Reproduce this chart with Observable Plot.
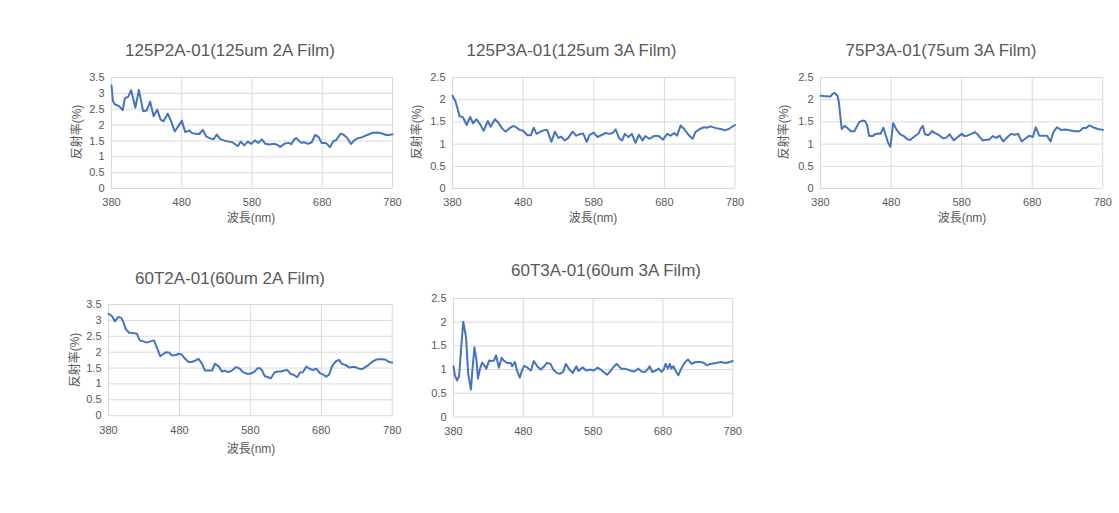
<!DOCTYPE html>
<html>
<head>
<meta charset="utf-8">
<script src="https://cdn.jsdelivr.net/npm/d3@7"></script>
<script src="https://cdn.jsdelivr.net/npm/@observablehq/plot@0.6"></script>
<style>
  html, body { margin: 0; padding: 0; background: #ffffff; }
  #root { position: relative; width: 1119px; height: 513px; overflow: hidden; background: #fff;
          font-family: "Liberation Sans", Arial, "Noto Sans CJK JP", sans-serif; color: #595959; }
  .lbl { position: absolute; white-space: nowrap; line-height: 1; transform: translate(-50%, -50%); }
  .title { font-size: 17px; }
  .axt { font-size: 12px; }
  .rot { transform: translate(-50%, -50%) rotate(-90deg); }
</style>
</head>
<body>
<div id="root"></div>
<script>
// ---- Data (wavelength nm / reflectance %) ----
const xTicks = [380, 480, 580, 680, 780];
const yTicks35 = [0, 0.5, 1, 1.5, 2, 2.5, 3, 3.5];
const yTicks25 = [0, 0.5, 1, 1.5, 2, 2.5];

const titles = [
  "125P2A-01(125um 2A Film)",
  "125P3A-01(125um 3A Film)",
  "75P3A-01(75um 3A Film)",
  "60T2A-01(60um 2A Film)",
  "60T3A-01(60um 3A Film)"
];
const xAxisTitle = "波長(nm)";
const yAxisTitle = "反射率(%)";

const wl125P2A = [380,382,385,389,392,396,399,404,408,414,419,425,430,435,440,445,450,454,460,465,470,475,480,485,491,495,500,505,510,515,520,525,530,535,540,547,552,557,560,564,569,574,579,584,589,594,599,604,612,616,620,626,632,636,640,643,650,654,660,665,670,675,679,685,691,696,700,706,710,715,721,726,731,737,744,752,758,763,771,775,780];
const r125P2A  = [3.25,2.76,2.65,2.62,2.57,2.47,2.84,2.9,3.1,2.55,3.11,2.44,2.46,2.74,2.28,2.49,2.17,2.12,2.36,2.12,1.8,1.96,2.14,1.78,1.83,1.74,1.73,1.72,1.85,1.64,1.59,1.55,1.7,1.56,1.52,1.48,1.46,1.38,1.34,1.48,1.36,1.48,1.41,1.52,1.44,1.55,1.41,1.39,1.41,1.38,1.31,1.41,1.44,1.4,1.55,1.59,1.44,1.46,1.41,1.46,1.69,1.62,1.44,1.44,1.31,1.5,1.53,1.73,1.7,1.61,1.41,1.53,1.59,1.62,1.69,1.76,1.77,1.75,1.69,1.69,1.71];

const wl125P3A = [380,384,387,390,395,400,405,409,414,419,424,430,434,440,445,450,455,461,466,471,475,480,486,491,495,499,505,511,514,520,525,530,534,539,544,550,555,560,565,570,574,580,585,592,597,602,607,611,616,620,624,629,634,639,644,649,653,659,665,672,678,684,689,694,698,703,708,714,720,724,730,736,741,745,753,760,766,771,780];
const r125P3A  = [2.09,1.97,1.81,1.63,1.6,1.43,1.61,1.47,1.56,1.45,1.3,1.52,1.39,1.56,1.48,1.36,1.28,1.36,1.41,1.37,1.32,1.3,1.2,1.2,1.37,1.23,1.28,1.32,1.32,1.05,1.28,1.14,1.17,1.08,1.14,1.28,1.19,1.22,1.24,1.05,1.2,1.26,1.16,1.21,1.25,1.23,1.25,1.33,1.13,1.08,1.23,1.16,1.23,1.03,1.21,1.08,1.18,1.12,1.18,1.18,1.1,1.23,1.19,1.25,1.19,1.42,1.34,1.21,1.12,1.27,1.34,1.38,1.37,1.4,1.36,1.34,1.31,1.34,1.43];

const wl75P3A = [380,387,394,397,400,404,406,410,414,419,423,428,432,435,440,443,446,449,454,458,462,465,469,473,476,479,483,488,493,498,503,507,513,519,522,525,528,533,538,543,548,554,558,563,569,573,580,584,588,594,599,603,610,614,619,624,629,634,639,645,650,655,660,665,670,676,681,685,690,695,701,706,710,715,721,727,733,740,747,752,756,761,766,773,780];
const r75P3A  = [2.09,2.08,2.07,2.13,2.15,2.09,1.95,1.34,1.41,1.35,1.29,1.29,1.41,1.5,1.53,1.52,1.43,1.18,1.18,1.23,1.24,1.23,1.37,1.17,1.02,0.94,1.47,1.32,1.22,1.18,1.11,1.09,1.17,1.24,1.35,1.41,1.22,1.2,1.29,1.24,1.2,1.13,1.14,1.22,1.08,1.14,1.23,1.18,1.19,1.23,1.27,1.21,1.08,1.1,1.1,1.18,1.14,1.19,1.06,1.16,1.23,1.21,1.23,1.06,1.12,1.19,1.16,1.38,1.19,1.19,1.19,1.06,1.27,1.38,1.32,1.33,1.31,1.29,1.29,1.36,1.36,1.42,1.38,1.34,1.32];

const wl60T2A = [380,385,389,394,398,401,404,409,414,420,424,429,434,439,444,448,453,458,461,466,469,474,479,483,488,493,497,502,507,512,516,521,526,530,535,540,544,549,554,560,565,570,575,580,586,590,594,597,600,605,609,614,619,623,628,632,637,641,646,650,654,659,664,669,673,678,683,687,691,695,700,705,709,714,719,724,728,733,738,742,747,752,757,761,766,771,775,780];
const r60T2A  = [3.21,3.13,2.97,3.11,3.08,2.95,2.74,2.61,2.6,2.58,2.37,2.34,2.3,2.34,2.37,2.16,1.87,1.95,2.0,1.98,1.9,1.9,1.95,1.93,1.79,1.69,1.69,1.73,1.79,1.63,1.42,1.42,1.42,1.63,1.56,1.39,1.42,1.37,1.42,1.53,1.48,1.37,1.32,1.32,1.39,1.49,1.49,1.41,1.25,1.21,1.18,1.36,1.39,1.39,1.42,1.44,1.31,1.29,1.21,1.36,1.37,1.55,1.47,1.44,1.48,1.34,1.29,1.23,1.29,1.55,1.7,1.76,1.63,1.6,1.52,1.53,1.53,1.48,1.47,1.53,1.6,1.7,1.76,1.78,1.78,1.76,1.7,1.67];

const wl60T3A = [380,382,385,388,391,394,398,401,405,407,410,413,415,418,421,424,427,431,434,438,441,445,449,452,457,462,464,468,471,475,478,481,486,491,495,500,505,510,514,519,523,528,532,537,541,546,551,556,559,565,570,576,581,586,591,595,600,605,610,614,620,625,630,635,639,645,649,654,658,661,665,670,674,678,681,684,687,690,692,695,698,702,705,710,714,716,721,727,734,739,743,748,756,763,770,776,780];
const r60T3A  = [1.07,0.88,0.77,0.86,1.47,2.01,1.68,0.91,0.58,0.98,1.47,1.19,0.81,1.02,1.15,1.09,1.02,1.19,1.18,1.19,1.3,1.04,1.25,1.19,1.14,1.14,1.07,1.16,0.98,0.83,0.98,1.08,1.04,0.98,1.18,1.07,1.0,1.07,1.14,1.12,1.0,0.93,0.91,0.95,1.12,1.0,0.93,1.07,0.97,1.05,0.98,1.0,0.98,1.04,1.0,0.95,0.89,0.97,1.07,1.12,1.02,1.02,1.0,0.97,0.96,1.02,0.96,0.95,1.0,1.07,0.95,0.98,1.02,0.95,1.0,1.12,1.02,1.12,1.02,1.07,0.98,0.88,0.98,1.12,1.19,1.21,1.12,1.16,1.16,1.14,1.09,1.12,1.14,1.16,1.14,1.16,1.18];

// ---- Layout (page coordinates of each plot frame, titles and axis titles) ----
const charts = [
  { wl: wl125P2A, r: r125P2A, yt: yTicks35, L: 110.7, R: 391.7, T: 76.7, B: 187.8, title: titles[0], tx: 230, ty: 50, ylab: [77, 132], xlab: [251, 218] },
  { wl: wl125P3A, r: r125P3A, yt: yTicks25, L: 451.7, R: 734.2, T: 76.5, B: 187.5, title: titles[1], tx: 571.5, ty: 50, ylab: [417, 132], xlab: [593, 218] },
  { wl: wl75P3A,  r: r75P3A,  yt: yTicks25, L: 820,   R: 1102.3, T: 76.5, B: 187.5, title: titles[2], tx: 941, ty: 50, ylab: [784, 132], xlab: [962, 218] },
  { wl: wl60T2A,  r: r60T2A,  yt: yTicks35, L: 108.3, R: 392, T: 304.3, B: 415.5, title: titles[3], tx: 230, ty: 278, ylab: [74.5, 360], xlab: [251, 449] },
  { wl: wl60T3A,  r: r60T3A,  yt: yTicks25, L: 453.3, R: 732.5, T: 298.3, B: 416.8, title: titles[4], tx: 606, ty: 270, ylab: null, xlab: null }
];

const root = document.getElementById("root");
const FONT = '"Liberation Sans", Arial, "Noto Sans CJK JP", sans-serif';

function addLabel(text, x, y, cls) {
  const d = document.createElement("div");
  d.className = "lbl " + cls;
  d.textContent = text;
  d.style.left = x + "px";
  d.style.top = y + "px";
  root.appendChild(d);
}

for (const c of charts) {
  const data = c.wl.map((w, i) => ({ w, r: c.r[i] }));
  const ml = 50, mr = 15, mt = 10, mb = 30;
  const width = (c.R - c.L) + ml + mr;
  const height = (c.B - c.T) + mt + mb;
  const svg = Plot.plot({
    width, height,
    marginLeft: ml, marginRight: mr, marginTop: mt, marginBottom: mb,
    style: { fontSize: "11px", fontFamily: FONT, color: "#595959", background: "transparent", overflow: "visible" },
    x: { domain: [380, 780], label: null },
    y: { domain: [0, c.yt[c.yt.length - 1]], label: null },
    marks: [
      Plot.gridY(c.yt, { stroke: "#d9d9d9", strokeOpacity: 1, strokeWidth: 1 }),
      Plot.gridX(xTicks, { stroke: "#d9d9d9", strokeOpacity: 1, strokeWidth: 1 }),
      Plot.axisY(c.yt, { tickSize: 0, tickPadding: 7, tickFormat: d => String(d), label: null, fill: "#595959" }),
      Plot.axisX(xTicks, { tickSize: 0, tickPadding: 10, tickFormat: d => String(d), label: null, fill: "#595959" }),
      Plot.line(data, { x: "w", y: "r", stroke: "#4472C4", strokeWidth: 2, strokeLinejoin: "round" })
    ]
  });
  svg.style.position = "absolute";
  svg.style.left = (c.L - ml) + "px";
  svg.style.top = (c.T - mt) + "px";
  root.appendChild(svg);

  addLabel(c.title, c.tx, c.ty, "title");
  if (c.ylab) addLabel(yAxisTitle, c.ylab[0], c.ylab[1], "axt rot");
  if (c.xlab) addLabel(xAxisTitle, c.xlab[0], c.xlab[1], "axt");
}
</script>
</body>
</html>
